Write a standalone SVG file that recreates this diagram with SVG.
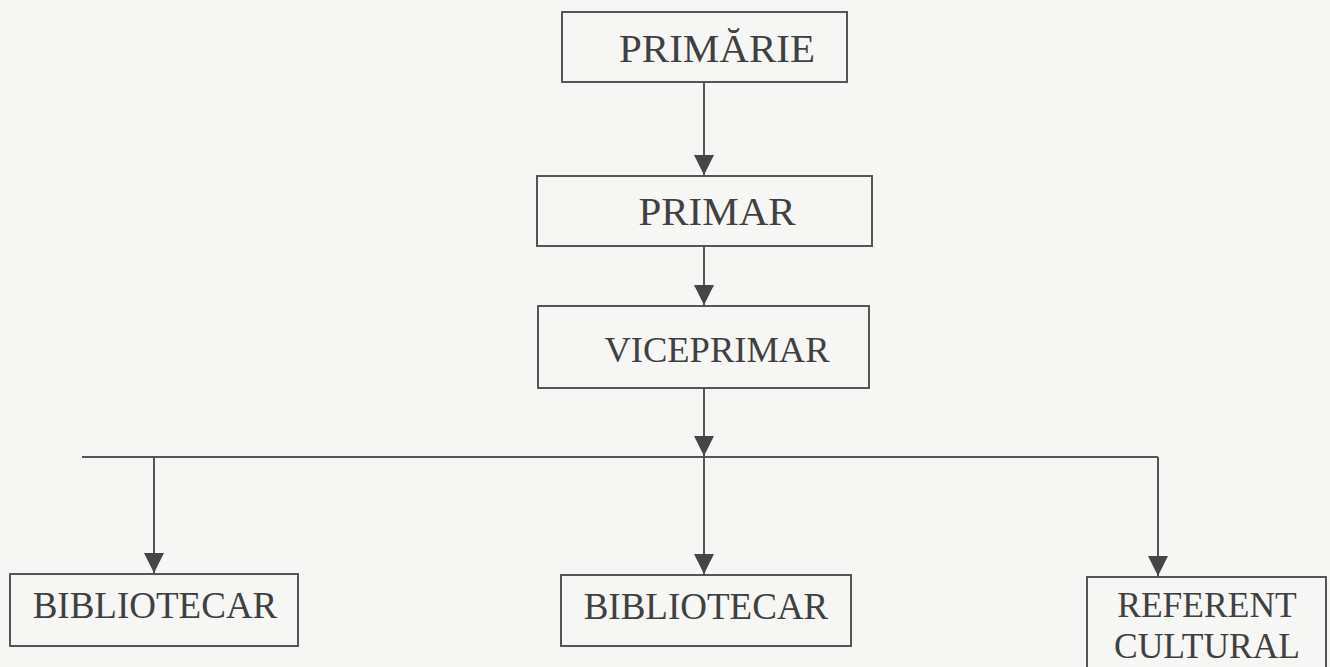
<svg xmlns="http://www.w3.org/2000/svg" width="1330" height="667" viewBox="0 0 1330 667">
<style>
.box{fill:none;stroke:#555;stroke-width:2}
.t{font-family:"Liberation Serif","Times New Roman",Times,serif;fill:#404040;text-anchor:middle}
.c{stroke:#555;stroke-width:2;fill:none}
.ah{fill:#454545}
</style>
<defs>
<marker id="arr" markerUnits="userSpaceOnUse" markerWidth="22" markerHeight="22" viewBox="0 0 22 22" refX="21" refY="11" orient="auto">
<path d="M1,1 L21,11 L1,21 Z" class="ah"/>
</marker>
</defs>
<rect width="1330" height="667" fill="#f6f6f4"/>
<g id="connectors">
<line class="c" x1="704" y1="83" x2="704" y2="175" marker-end="url(#arr)"/>
<line class="c" x1="704" y1="247" x2="704" y2="305" marker-end="url(#arr)"/>
<line class="c" x1="704" y1="389" x2="704" y2="456" marker-end="url(#arr)"/>
<line class="c" x1="82" y1="457" x2="1158" y2="457"/>
<line class="c" x1="154" y1="457" x2="154" y2="573" marker-end="url(#arr)"/>
<line class="c" x1="704" y1="457" x2="704" y2="574" marker-end="url(#arr)"/>
<line class="c" x1="1158" y1="457" x2="1158" y2="576" marker-end="url(#arr)"/>
</g>
<g id="primarie">
<rect class="box" x="562" y="12" width="285" height="70"/>
<text class="t" x="717" y="62" font-size="41">PRIMĂRIE</text>
</g>
<g id="primar">
<rect class="box" x="537" y="176" width="335" height="70"/>
<text class="t" x="717" y="225" font-size="41">PRIMAR</text>
</g>
<g id="viceprimar">
<rect class="box" x="538" y="306" width="331" height="82"/>
<text class="t" x="717" y="362" font-size="36.5">VICEPRIMAR</text>
</g>
<g id="bibliotecar1">
<rect class="box" x="10" y="574" width="288" height="72"/>
<text class="t" x="155" y="618" font-size="37">BIBLIOTECAR</text>
</g>
<g id="bibliotecar2">
<rect class="box" x="561" y="575" width="290" height="71"/>
<text class="t" x="706" y="619" font-size="37">BIBLIOTECAR</text>
</g>
<g id="referent">
<rect class="box" x="1087" y="577" width="239" height="110"/>
<text class="t" x="1207" y="617" font-size="35.5">REFERENT</text>
<text class="t" x="1207" y="658" font-size="35.5">CULTURAL</text>
</g>
</svg>
